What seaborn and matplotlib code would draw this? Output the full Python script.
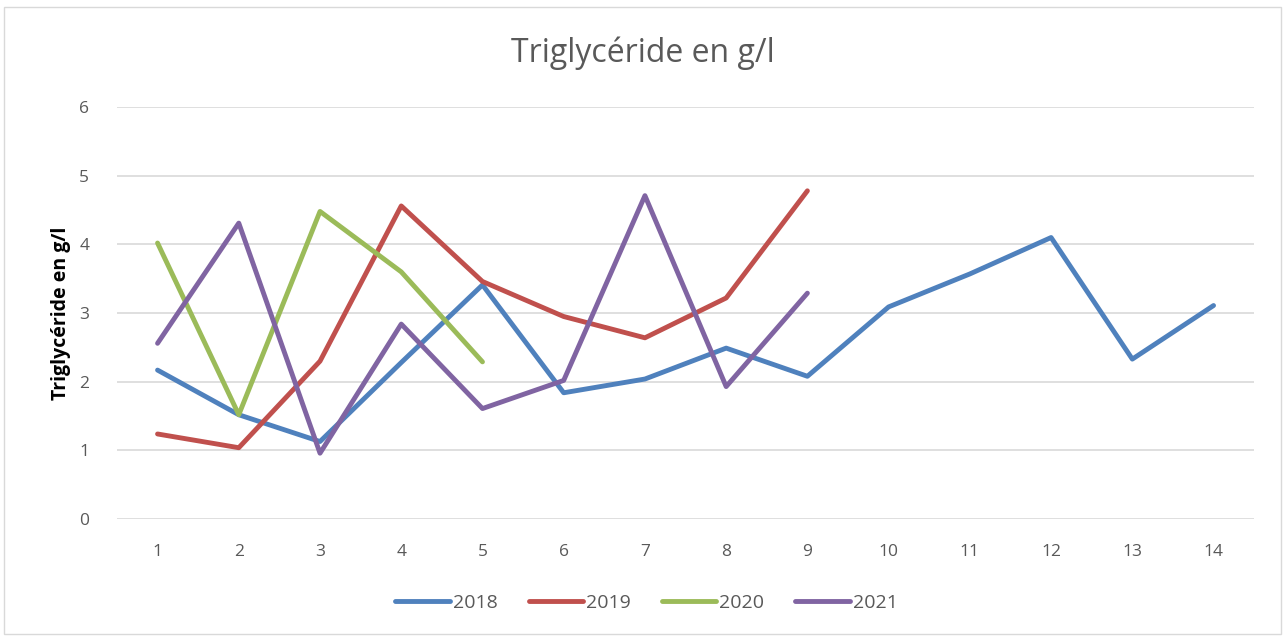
import numpy as np
import pandas as pd
import seaborn as sns
import matplotlib.pyplot as plt
from matplotlib.patches import Rectangle

# values
y2018 = [2.17, 1.52, 1.13, 2.28, 3.41, 1.84, 2.04, 2.49, 2.08, 3.09, 3.57, 4.10, 2.33, 3.11]
y2019 = [1.24, 1.04, 2.30, 4.56, 3.46, 2.95, 2.64, 3.22, 4.78]
y2020 = [4.02, 1.52, 4.48, 3.60, 2.29]
y2021 = [2.56, 4.31, 0.96, 2.84, 1.61, 2.02, 4.71, 1.93, 3.29]
years = ['2018', '2019', '2020', '2021']
colors = ['#4F81BD', '#C0504D', '#9BBB59', '#8064A2']

rows = []
for yr, vals in zip(years, [y2018, y2019, y2020, y2021]):
    for i, v in enumerate(vals):
        rows.append({'mesure': i + 1, 'valeur': v, 'annee': yr})
df = pd.DataFrame(rows)

sns.set_theme(style='white')
plt.rcParams['font.family'] = ['Open Sans', 'DejaVu Sans']
txt = '#595959'

fig = plt.figure(figsize=(12.85, 6.37), dpi=100)
ax = fig.add_axes([0.091, 0.185, 0.885, 0.647])

sns.lineplot(data=df, x='mesure', y='valeur', hue='annee', palette=colors,
             linewidth=3.5, sort=False, ax=ax, legend=False)

ax.set_xlim(0.5, 14.5)
ax.set_ylim(0, 6)
ax.set_xticks(range(1, 15))
ax.set_yticks(range(0, 7))
ax.yaxis.grid(True, color='#D9D9D9', linewidth=1.2)
ax.set_axisbelow(True)
for s in ax.spines.values():
    s.set_visible(False)
ax.tick_params(axis='both', length=0, labelsize=12.5, labelcolor=txt)
ax.tick_params(axis='y', pad=20)
ax.tick_params(axis='x', pad=18)
ax.set_xlabel('')
ax.set_ylabel('Triglycéride en g/l', fontsize=14, fontweight='bold', color='black', labelpad=6)

fig.text(0.5, 0.917, 'Triglycéride en g/l', ha='center', va='center', fontsize=23, color=txt)

handles = [plt.Line2D([0], [0], color=c, linewidth=3.5, solid_capstyle='round') for c in colors]
fig.legend(handles, years, loc='center', bbox_to_anchor=(0.503, 0.053), ncol=4, frameon=False,
           fontsize=14, labelcolor=txt, handlelength=2.8, handletextpad=0.15, columnspacing=1.6)

fig.patches.append(Rectangle((0.003, 0.004), 0.994, 0.985, transform=fig.transFigure,
                             fill=False, edgecolor='#D9D9D9', linewidth=1))

fig.savefig('out.png', dpi=100)
